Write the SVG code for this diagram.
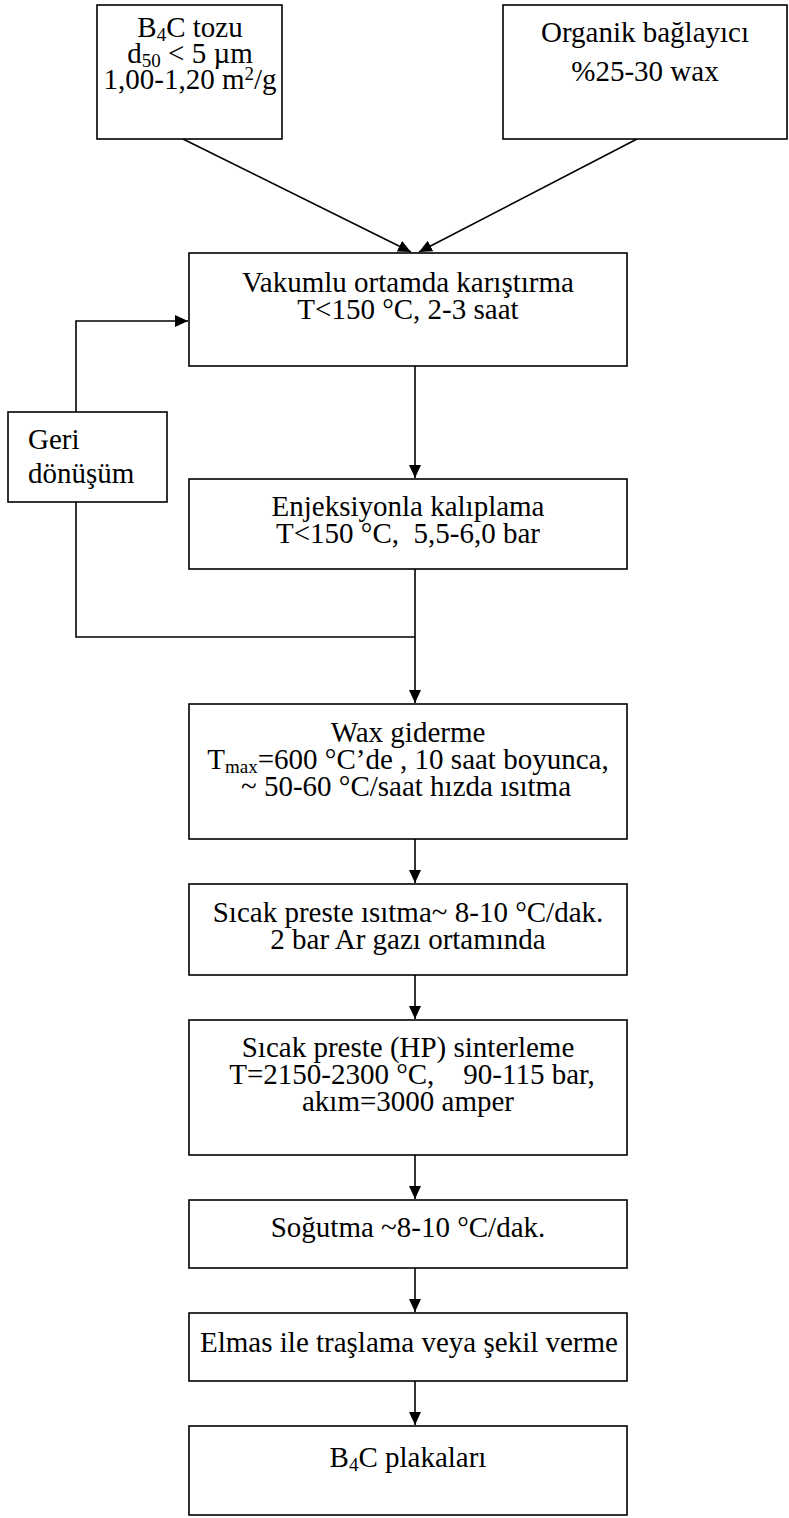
<svg xmlns="http://www.w3.org/2000/svg" width="789" height="1518" viewBox="0 0 789 1518">
<style>
.box{fill:#fff;stroke:#000;stroke-width:1.6}
.t{font-family:"Liberation Serif","Times New Roman",serif;font-size:29px;fill:#000;text-anchor:middle}
.tl{font-family:"Liberation Serif","Times New Roman",serif;font-size:29px;fill:#000}
.s{font-size:19px}
.c{fill:none;stroke:#000;stroke-width:1.6}
</style>
<defs>
<marker id="ah" markerUnits="userSpaceOnUse" markerWidth="14" markerHeight="12" refX="13" refY="6" orient="auto">
<path d="M0,0 L13,6 L0,12 z" fill="#000"/>
</marker>
</defs>
<rect width="789" height="1518" fill="#fff"/>
<g id="connectors">
<line class="c" x1="183" y1="139" x2="411" y2="252" marker-end="url(#ah)"/>
<line class="c" x1="637" y1="139" x2="419" y2="252" marker-end="url(#ah)"/>
<polyline class="c" points="76,412 76,321 188,321" marker-end="url(#ah)"/>
<polyline class="c" points="76,502 76,637 415,637"/>
<line class="c" x1="415" y1="366" x2="415" y2="478" marker-end="url(#ah)"/>
<line class="c" x1="415" y1="569" x2="415" y2="703" marker-end="url(#ah)"/>
<line class="c" x1="415" y1="839" x2="415" y2="883" marker-end="url(#ah)"/>
<line class="c" x1="415" y1="975" x2="415" y2="1019" marker-end="url(#ah)"/>
<line class="c" x1="415" y1="1155" x2="415" y2="1199" marker-end="url(#ah)"/>
<line class="c" x1="415" y1="1268" x2="415" y2="1312" marker-end="url(#ah)"/>
<line class="c" x1="415" y1="1381" x2="415" y2="1425" marker-end="url(#ah)"/>
</g>
<g id="n_b4c">
<rect class="box" x="97" y="5" width="185" height="134"/>
<text class="t" x="190" y="37">B<tspan class="s" baseline-shift="-4">4</tspan>C tozu</text>
<text class="t" x="190" y="63">d<tspan class="s" baseline-shift="-4">50</tspan> &lt; 5 µm</text>
<text class="t" x="190" y="89">1,00-1,20 m<tspan class="s" baseline-shift="9">2</tspan>/g</text>
</g>
<g id="n_organik">
<rect class="box" x="503" y="5" width="284" height="134"/>
<text class="t" x="645" y="42">Organik bağlayıcı</text>
<text class="t" x="645" y="81">%25-30 wax</text>
</g>
<g id="n_vakum">
<rect class="box" x="189" y="253" width="438" height="113"/>
<text class="t" x="408" y="292">Vakumlu ortamda karıştırma</text>
<text class="t" x="408" y="319">T&lt;150 °C, 2-3 saat</text>
</g>
<g id="n_geri">
<rect class="box" x="8" y="412" width="159" height="90"/>
<text class="tl" x="28" y="449">Geri</text>
<text class="tl" x="28" y="483">dönüşüm</text>
</g>
<g id="n_enj">
<rect class="box" x="189" y="479" width="438" height="90"/>
<text class="t" x="408" y="516">Enjeksiyonla kalıplama</text>
<text class="t" x="408" y="543" xml:space="preserve">T&lt;150 °C,  5,5-6,0 bar</text>
</g>
<g id="n_wax">
<rect class="box" x="189" y="704" width="438" height="135"/>
<text class="t" x="408" y="742">Wax giderme</text>
<text class="t" x="408" y="769">T<tspan class="s" baseline-shift="-4">max</tspan>=600 °C’de , 10 saat boyunca,</text>
<text class="t" x="406" y="796">~ 50-60 °C/saat hızda ısıtma</text>
</g>
<g id="n_isitma">
<rect class="box" x="189" y="884" width="438" height="91"/>
<text class="t" x="408" y="922">Sıcak preste ısıtma~ 8-10 °C/dak.</text>
<text class="t" x="408" y="949">2 bar Ar gazı ortamında</text>
</g>
<g id="n_hp">
<rect class="box" x="189" y="1020" width="438" height="135"/>
<text class="t" x="408" y="1057">Sıcak preste (HP) sinterleme</text>
<text class="t" x="412" y="1084" xml:space="preserve">T=2150-2300 °C,    90-115 bar,</text>
<text class="t" x="408" y="1111">akım=3000 amper</text>
</g>
<g id="n_sogutma">
<rect class="box" x="189" y="1200" width="438" height="68"/>
<text class="t" x="408" y="1237">Soğutma ~8-10 °C/dak.</text>
</g>
<g id="n_elmas">
<rect class="box" x="189" y="1313" width="438" height="68"/>
<text class="t" x="409" y="1352">Elmas ile traşlama veya şekil verme</text>
</g>
<g id="n_plaka">
<rect class="box" x="189" y="1426" width="438" height="89"/>
<text class="t" x="408" y="1467">B<tspan class="s" baseline-shift="-4">4</tspan>C plakaları</text>
</g>
</svg>
